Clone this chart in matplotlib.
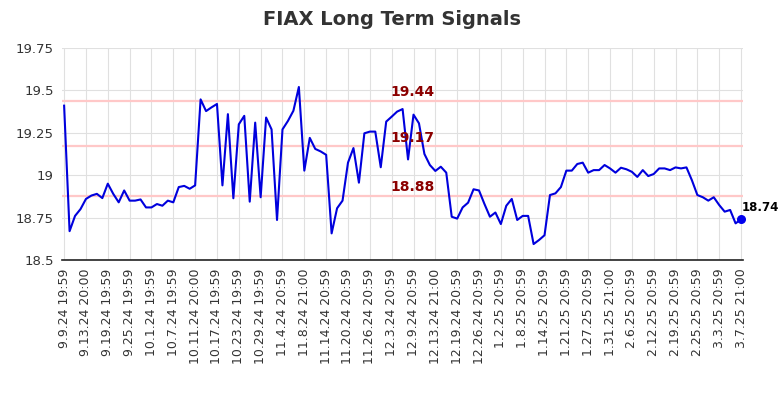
import matplotlib
matplotlib.use("Agg")
import matplotlib.pyplot as plt

# trading days shown on the x axis (every 4th session gets a label)
tick_labels = ["9.9.24 19:59", "9.13.24 20:00", "9.19.24 19:59", "9.25.24 19:59",
               "10.1.24 19:59", "10.7.24 19:59", "10.11.24 20:00", "10.17.24 19:59",
               "10.23.24 19:59", "10.29.24 19:59", "11.4.24 20:59", "11.8.24 21:00",
               "11.14.24 20:59", "11.20.24 20:59", "11.26.24 20:59", "12.3.24 20:59",
               "12.9.24 20:59", "12.13.24 21:00", "12.19.24 20:59", "12.26.24 20:59",
               "1.2.25 20:59", "1.8.25 20:59", "1.14.25 20:59", "1.21.25 20:59",
               "1.27.25 20:59", "1.31.25 21:00", "2.6.25 20:59", "2.12.25 20:59",
               "2.19.25 20:59", "2.25.25 20:59", "3.3.25 20:59", "3.7.25 21:00"]

prices = [19.41, 18.67, 18.76, 18.80, 18.86, 18.88, 18.89, 18.865, 18.95, 18.89,
          18.84, 18.91, 18.85, 18.85, 18.857, 18.81, 18.81, 18.83, 18.82, 18.85,
          18.84, 18.93, 18.937, 18.92, 18.94, 19.447, 19.378, 19.40, 19.42, 18.94,
          19.36, 18.864, 19.30, 19.35, 18.844, 19.31, 18.87, 19.34, 19.27, 18.736,
          19.27, 19.32, 19.38, 19.52, 19.027, 19.22, 19.155, 19.14, 19.12, 18.657,
          18.805, 18.85, 19.074, 19.16, 18.956, 19.247, 19.257, 19.257, 19.047, 19.316,
          19.345, 19.375, 19.39, 19.093, 19.357, 19.306, 19.125, 19.06, 19.025, 19.05,
          19.015, 18.755, 18.744, 18.81, 18.838, 18.917, 18.91, 18.83, 18.755, 18.78,
          18.712, 18.82, 18.86, 18.736, 18.76, 18.76, 18.594, 18.618, 18.646, 18.883,
          18.893, 18.93, 19.027, 19.027, 19.066, 19.074, 19.015, 19.03, 19.03, 19.06,
          19.04, 19.015, 19.044, 19.035, 19.02, 18.99, 19.03, 18.995, 19.007, 19.04,
          19.04, 19.03, 19.046, 19.04, 19.046, 18.97, 18.883, 18.87, 18.85, 18.87,
          18.824, 18.785, 18.795, 18.716, 18.74]

signal_levels = [19.44, 19.17, 18.88]
y_ticks = [18.5, 18.75, 19.0, 19.25, 19.5, 19.75]

fig = plt.figure(figsize=(7.84, 4.0), dpi=100)
ax = fig.add_axes([0.079, 0.35, 0.869, 0.53])

x = list(range(len(prices)))

for lvl in signal_levels:
    ax.axhline(lvl, color="#ffc8c8", linewidth=1.6, zorder=1)
    ax.text(63.8, lvl + 0.008, "%.2f" % lvl, color="#8b0000", fontsize=10,
            fontweight="bold", ha="center", va="bottom", zorder=3)

ax.plot(x, prices, color="#0000dd", linewidth=1.5, zorder=2)
ax.scatter([x[-1]], [prices[-1]], s=30, color="#0000ee", zorder=4, clip_on=False)
ax.text(x[-1] + 0.05, prices[-1] + 0.03, "%.2f" % prices[-1], fontsize=8.5,
        fontweight="bold", color="black", ha="left", va="bottom")

ax.set_xlim(-0.4, len(prices) - 1 + 0.4)
ax.set_ylim(18.5, 19.75)
ax.set_xticks(x[::4])
ax.set_xticklabels(tick_labels, rotation=90, fontsize=9, color="#333333")
ax.set_yticks(y_ticks)
ax.set_yticklabels([("%g" % v) for v in y_ticks], fontsize=9.5, color="#333333")

ax.grid(True, color="#e0e0e0", linewidth=0.8)
ax.set_axisbelow(True)
ax.tick_params(length=0, pad=6)
for s in ["top", "right", "left"]:
    ax.spines[s].set_visible(False)
ax.spines["bottom"].set_color("#222222")
ax.spines["bottom"].set_linewidth(1.2)

fig.suptitle("FIAX Long Term Signals", fontsize=14, fontweight="bold",
             color="#333333", x=0.5, y=0.975)

fig.savefig("out.png", dpi=100)
